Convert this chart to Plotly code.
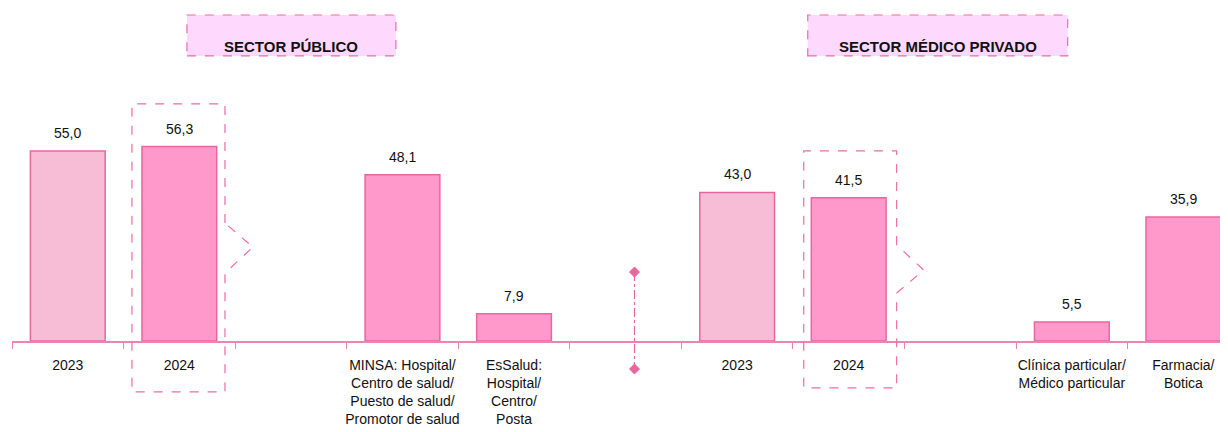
import plotly.graph_objects as go

categories = ["2023", "2024", "",
              "MINSA: Hospital/<br>Centro de salud/<br>Puesto de salud/<br>Promotor de salud",
              "EsSalud:<br>Hospital/<br>Centro/<br>Posta", "",
              "2023", "2024", "",
              "Clínica particular/<br>Médico particular",
              "Farmacia/<br>Botica"]
values = [55.0, 56.3, None, 48.1, 7.9, None, 43.0, 41.5, None, 5.5, 35.9]
is_prev_year = [True, False, False, False, False, False, True, False, False, False, False]
sector_titles = ["SECTOR PÚBLICO", "SECTOR MÉDICO PRIVADO"]

PINK_LIGHT = "#F7BDD7"
PINK = "#FF99CC"
EDGE = "#E8679F"
DASH = "#F06BA8"
FONT = "Liberation Sans Narrow, Arial Narrow, Liberation Sans, Arial, sans-serif"

xs = list(range(len(categories)))
colors = [PINK_LIGHT if p else PINK for p in is_prev_year]
texts = ["" if v is None else f"{v:.1f}".replace(".", ",") for v in values]

fig = go.Figure()
fig.add_trace(go.Bar(
    x=xs, y=values, width=0.67,
    marker=dict(color=colors, line=dict(color=EDGE, width=1.5)),
    hoverinfo="skip",
))

annotations = []
for x, v, t in zip(xs, values, texts):
    if v is None:
        continue
    annotations.append(dict(x=x, y=v, xref="x", yref="y", text=t, showarrow=False,
                            yanchor="middle", yshift=18,
                            font=dict(family=FONT, size=14, color="#111111")))

shapes = []
# divider line with diamonds
div_x = 5.08
shapes.append(dict(type="line", xref="x", yref="paper", x0=div_x, x1=div_x,
                   y0=0.207, y1=-0.084, line=dict(color="#E8669E", width=1.2, dash="dashdot")))
diamond = "M 0 5 L 5 0 L 0 -5 L -5 0 Z"
for yy in (0.207, -0.084):
    shapes.append(dict(type="path", xref="x", yref="paper", xsizemode="pixel", ysizemode="pixel",
                       xanchor=div_x, yanchor=yy, path=diamond,
                       fillcolor="#E8669E", line=dict(color="#E8669E", width=1)))

# highlight boxes around 2024 bars (with notch)
def notch_box(xl, xr, xt, ytop, ybot, n1, n2, n3):
    return (f"M {xr} {n1} L {xr} {ytop} L {xl} {ytop} L {xl} {ybot} L {xr} {ybot} "
            f"L {xr} {n3} L {xt} {n2} L {xr} {n1}")

shapes.append(dict(type="path", xref="x", yref="paper",
                   path=notch_box(0.575, 1.409, 1.66, 0.712, -0.153, 0.354, 0.282, 0.204),
                   line=dict(color=DASH, width=1.2, dash="dash")))
shapes.append(dict(type="path", xref="x", yref="paper",
                   path=notch_box(6.597, 7.430, 7.672, 0.571, -0.141, 0.288, 0.213, 0.144),
                   line=dict(color=DASH, width=1.2, dash="dash")))

# sector title boxes
boxes = [(1.068, 2.941), (6.633, 8.963)]
for (x0, x1), title in zip(boxes, sector_titles):
    shapes.append(dict(type="rect", xref="x", yref="paper", x0=x0, x1=x1, y0=0.856, y1=0.979,
                       fillcolor="#FFD9FD", line=dict(color=DASH, width=1.2, dash="dash"),
                       layer="below"))
    annotations.append(dict(x=(x0 + x1) / 2, y=0.917, xref="x", yref="paper", text=f"<b>{title}</b>",
                            showarrow=False, font=dict(family=FONT, size=15, color="#111111")))

fig.update_layout(
    width=1220, height=424,
    margin=dict(l=4, r=0, t=0, b=91, autoexpand=False),
    plot_bgcolor="white", paper_bgcolor="white",
    showlegend=False,
    shapes=shapes, annotations=annotations,
    xaxis=dict(range=[-0.5, 10.4], tickmode="array", tickvals=xs, ticktext=categories,
               ticks="", showgrid=False, zeroline=False, showline=True, automargin=False,
               linecolor="#EE82B4", linewidth=1.5, ticklabelstandoff=10,
               tickfont=dict(family=FONT, size=14, color="#111111"),
               minor=dict(tickmode="array", tickvals=[i - 0.5 for i in range(12)],
                          ticks="outside", ticklen=6, tickcolor="#EE82B4", tickwidth=1, showgrid=False)),
    yaxis=dict(range=[0, 96.4], visible=False, showgrid=False, zeroline=False, automargin=False),
)

fig.write_html("out.html")
